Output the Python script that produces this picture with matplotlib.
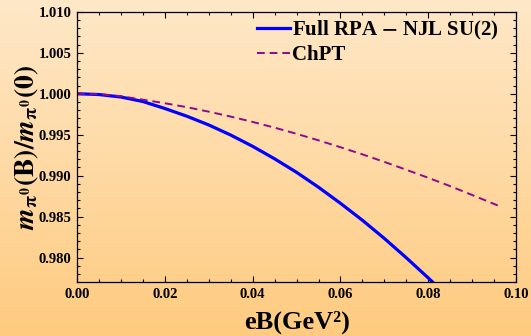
import numpy as np
import matplotlib
matplotlib.use('Agg')
import matplotlib.pyplot as plt
from matplotlib.ticker import MultipleLocator

plt.rcParams['font.family'] = 'Liberation Serif'
plt.rcParams['font.weight'] = 'bold'
plt.rcParams['mathtext.fontset'] = 'stix'

# Full RPA - NJL SU(2)
eB_rpa = [0.0, 0.005, 0.01, 0.015, 0.02, 0.025, 0.03, 0.035, 0.04, 0.045,
          0.05, 0.055, 0.06, 0.065, 0.07, 0.075, 0.08, 0.082]
m_rpa = [1.0000, 0.9999, 0.9996, 0.99905, 0.9982, 0.99726, 0.99619, 0.99496,
         0.99358, 0.99206, 0.99041, 0.98859, 0.98663, 0.98456, 0.98234,
         0.97998, 0.97752, 0.9765]

# ChPT
eB_chpt = [0.0, 0.005, 0.01, 0.015, 0.02, 0.025, 0.03, 0.035, 0.04, 0.045,
           0.05, 0.055, 0.06, 0.065, 0.07, 0.075, 0.08, 0.085, 0.09, 0.0968]
m_chpt = [1.0000, 0.99993, 0.9997, 0.99927, 0.99884, 0.99836, 0.99781,
          0.99721, 0.99656, 0.99586, 0.99511, 0.99431, 0.99347, 0.9926,
          0.99168, 0.99072, 0.98974, 0.98872, 0.98764, 0.98615]

fig = plt.figure(figsize=(5.31, 3.36), dpi=100)

# orange gradient background
bg = fig.add_axes([0, 0, 1, 1], zorder=-10)
top = np.array([254, 232, 200]) / 255
bot = np.array([255, 203, 128]) / 255
t = np.linspace(0, 1, 256)[:, None]
grad = top * (1 - t) + bot * t
bg.imshow(grad[:, None, :], aspect='auto', extent=[0, 1, 0, 1])
bg.axis('off')

ax = fig.add_axes([0.145, 0.16, 0.827, 0.805])
ax.patch.set_alpha(0)

ax.plot(eB_rpa, m_rpa, color='#0000ff', lw=2.3, label='Full RPA $-$ NJL SU(2)')
ax.plot(eB_chpt, m_chpt, color='#8b0a8b', lw=1.4, ls=(0, (4, 2.5)), label='ChPT')

ax.set_xlim(0, 0.10)
ax.set_ylim(0.977, 1.010)
ax.xaxis.set_major_locator(MultipleLocator(0.02))
ax.xaxis.set_minor_locator(MultipleLocator(0.005))
ax.yaxis.set_major_locator(MultipleLocator(0.005))
ax.yaxis.set_minor_locator(MultipleLocator(0.001))
ax.xaxis.set_major_formatter(matplotlib.ticker.FormatStrFormatter('%.2f'))
ax.yaxis.set_major_formatter(matplotlib.ticker.FormatStrFormatter('%.3f'))
ax.tick_params(which='both', direction='in', top=True, right=True, labelsize=10.5, width=0.8)
ax.tick_params(which='major', length=4.5, pad=4)
ax.tick_params(which='minor', length=2.5)
for sp in ax.spines.values():
    sp.set_linewidth(0.9)

ax.set_xlabel('eB(GeV²)', fontsize=19, fontweight='bold', labelpad=7)
ax.set_ylabel(r'$\mathbfit{m}_{\mathbf{\pi}^{\mathbf{0}}}\mathbf{(B)/}\mathbfit{m}_{\mathbf{\pi}^{\mathbf{0}}}\mathbf{(0)}$',
              fontsize=20, labelpad=-2)

leg = ax.legend(loc='upper right', bbox_to_anchor=(0.99, 1.02), frameon=False,
                handlelength=1.6, handletextpad=0.1, borderaxespad=0.2, labelspacing=0.15,
                prop={'family': 'Liberation Serif', 'weight': 'bold', 'size': 15})

fig.savefig('out.png', dpi=100)
